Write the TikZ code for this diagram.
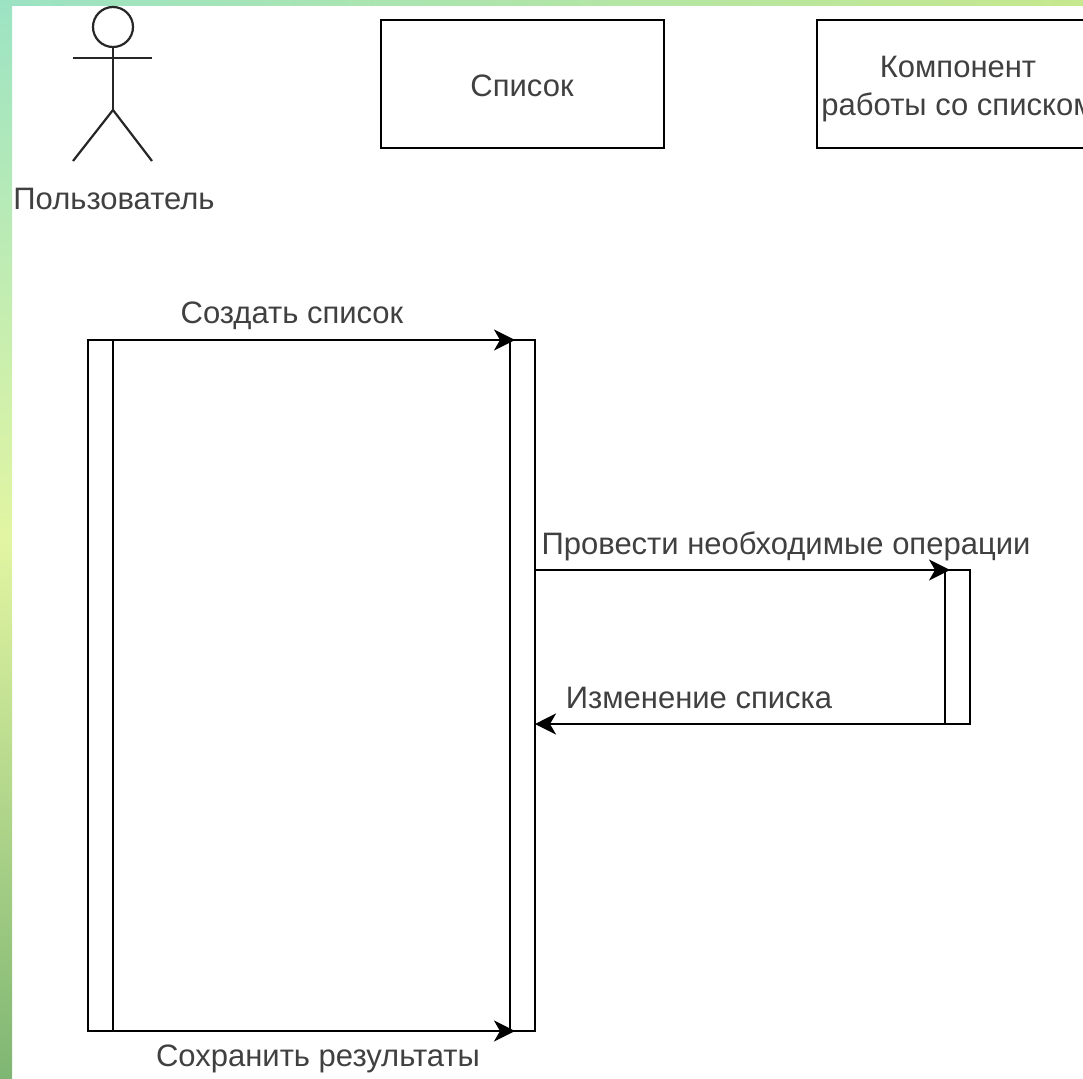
\documentclass[tikz,border=0pt]{standalone}
\usepackage{fontspec}
\setmainfont{Liberation Sans}
\usetikzlibrary{arrows.meta}
\definecolor{stripTop}{HTML}{9CE3C4}
\definecolor{stripMid}{HTML}{E2F5A2}
\definecolor{stripLow}{HTML}{7FB673}
\definecolor{stripEnd}{HTML}{C6E88E}
\definecolor{labelGray}{HTML}{404040}
\tikzstyle{objectBox}=[shape = rectangle, draw, line width = 2.2pt, outer sep = 0pt, minimum width = 283pt, minimum height = 128pt, inner sep = 0pt]
\tikzstyle{lifeBar}=[shape = rectangle, draw, line width = 2.2pt, outer sep = 0pt, minimum width = 25pt, inner sep = 0pt]
\tikzstyle{labeledText}=[text = labelGray, inner sep = 0pt, align = center, font = \fontsize{31}{38}\selectfont]
\tikzstyle{actorLine}=[line width = 2.2pt, draw = black!85]
\tikzstyle{messageArrow}=[line width = 2.2pt, -{Stealth[length = 21pt, width = 21pt, inset = 6pt]}]

\begin{document}
\begin{tikzpicture}[x = 1pt, y = -1pt]
\useasboundingbox (0,0) rectangle (1083,1078);
\clip (0,0) rectangle (1083,1078);
\shade[top color = stripTop, bottom color = stripLow, middle color = stripMid] (0,0) rectangle (12,1078);
\shade[left color = stripTop, right color = stripEnd] (0,0) rectangle (1083,6);
% actor
\node[circle, draw, actorLine, minimum size = 40pt, inner sep = 0pt, outer sep = 0pt] (head) at (113,27) {};
\coordinate (armL) at (73,58);
\coordinate (armR) at (152,58);
\coordinate (hip) at (113,110);
\coordinate (footL) at (73,161);
\coordinate (footR) at (152,161);
\draw[actorLine] (head) -- (hip);
\draw[actorLine] (armL) -- (armR);
\draw[actorLine] (footL) -- (hip) -- (footR);
\node[labeledText] (userLabel) at (114,199) {Пользователь};
% objects
\node[objectBox] (listBox) at (522.5,84) {};
\node[labeledText] (listLabel) at (522,86) {Список};
\node[objectBox] (compBox) at (958.5,84) {};
\node[labeledText] (compLabel) at (958,89) {Компонент\\работы со списком};
% bars
\node[lifeBar, minimum height = 691pt] (userBar) at (100.5,685.5) {};
\node[lifeBar, minimum height = 691pt] (listBar) at (522.5,685.5) {};
\node[lifeBar, minimum height = 154pt] (compBar) at (957.5,647) {};
% messages
\draw[messageArrow, shorten > = -5pt] (userBar.north east) -- (listBar.north west);
\draw[messageArrow, shorten > = -5pt] (userBar.south east) -- (listBar.south west);
\draw[messageArrow, shorten > = -5pt] (listBar.east |- compBar.north) -- (compBar.north west);
\draw[messageArrow] (compBar.south west) -- (listBar.east |- compBar.south);
\node[labeledText] (createLabel) at (292,316) {Создать список};
\node[labeledText] (runLabel) at (786,546) {Провести необходимые операции};
\node[labeledText] (changeLabel) at (699,698) {Изменение списка};
\node[labeledText] (saveLabel) at (318,1059) {Сохранить результаты};
\end{tikzpicture}
\end{document}
